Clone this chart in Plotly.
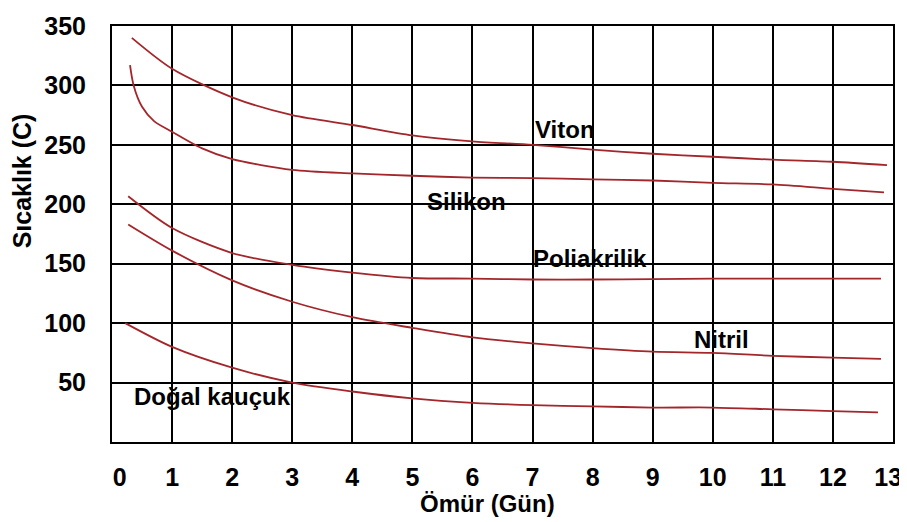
import plotly.graph_objects as go

# Data
viton_x = [0.33, 1, 2, 3, 4, 5, 6, 7, 8, 9, 10, 11, 12, 12.9]
viton_y = [340, 314, 290, 275, 266.7, 258, 253, 250, 246, 242.5, 240, 237.5, 235.8, 233]

silikon_x = [0.3, 0.36, 0.5, 0.7, 1, 1.5, 2, 3, 4, 5, 6, 7, 8, 9, 10, 11, 12, 12.85]
silikon_y = [317, 300, 282, 270, 261, 247, 238, 229, 226, 224, 222.5, 222, 221, 220, 218, 216.7, 213, 210]

poli_x = [0.27, 1, 2, 3, 4, 5, 6, 7, 8, 9, 10, 11, 12, 12.8]
poli_y = [206.7, 180, 159, 149, 142.5, 138, 137.5, 136.7, 136.7, 137, 137.5, 137.5, 137.5, 137.5]

nitril_x = [0.27, 1, 2, 3, 4, 5, 6, 7, 8, 9, 10, 11, 12, 12.8]
nitril_y = [183, 161, 136, 118, 105, 96, 88, 83, 79, 76, 75, 72.5, 71, 70]

dogal_x = [0.22, 1, 2, 3, 4, 5, 6, 7, 8, 9, 10, 11, 12, 12.75]
dogal_y = [100, 80, 62.5, 50, 42.5, 36.7, 33, 31, 30, 29, 29, 27.5, 26, 25]

series_names = ["Viton", "Silikon", "Poliakrilik", "Nitril", "Doğal kauçuk"]
label_x = [7.54, 5.9, 7.96, 10.15, 1.68]
label_y = [263, 202.5, 154, 86, 38]

x_grid = list(range(0, 14))
x_tick_labels = [str(v) for v in range(0, 14)]
x_label_pos = [0.13, 1, 2, 3, 4, 5, 6, 7, 8, 9, 10, 11, 12, 12.92]
y_ticks = [50, 100, 150, 200, 250, 300, 350]

x_title = "Ömür (Gün)"
y_title = "Sıcaklık (C)"

LINE = "#A3262B"
FONT = "Liberation Sans"

fig = go.Figure()
for name, xs, ys in zip(series_names,
                        [viton_x, silikon_x, poli_x, nitril_x, dogal_x],
                        [viton_y, silikon_y, poli_y, nitril_y, dogal_y]):
    fig.add_trace(go.Scatter(x=xs, y=ys, mode="lines", name=name,
                             line=dict(color=LINE, width=1.8, shape="spline", smoothing=0.8),
                             showlegend=False, hoverinfo="skip"))

# invisible trace on the label axis so it is drawn
fig.add_trace(go.Scatter(x=[0, 13], y=[0, 0], xaxis="x2", mode="lines",
                         line=dict(width=0), showlegend=False, hoverinfo="skip"))

for name, lx, ly in zip(series_names, label_x, label_y):
    fig.add_annotation(x=lx, y=ly, text=name, showarrow=False,
                       font=dict(family=FONT, size=24, color="black", weight="bold"))

fig.add_annotation(x=0.481, y=-0.147, xref="paper", yref="paper", text=x_title,
                   showarrow=False, yanchor="middle",
                   font=dict(family=FONT, size=24, color="black", weight="bold"))
fig.add_annotation(x=-0.115, y=0.627, xref="paper", yref="paper", text=y_title,
                   showarrow=False, textangle=-90, xanchor="center", yanchor="middle",
                   font=dict(family=FONT, size=25, color="black", weight="bold"))

tickfont = dict(family=FONT, size=25, color="black", weight="bold")

# the page body has an 8px margin, so the plot area is placed 8px left of the target
fig.update_layout(
    width=907, height=522,
    margin=dict(l=104, r=22, t=18, b=88),
    plot_bgcolor="white", paper_bgcolor="white",
    xaxis=dict(range=[0, 13], tickvals=x_grid, showticklabels=False,
               showgrid=True, gridcolor="black", gridwidth=2,
               showline=True, linecolor="black", linewidth=2, mirror=True,
               zeroline=False, ticks="", automargin=False),
    xaxis2=dict(range=[0, 13], overlaying="x", side="bottom",
                tickvals=x_label_pos, ticktext=x_tick_labels,
                showgrid=False, showline=False, zeroline=False, ticks="",
                ticklabelstandoff=18, tickfont=tickfont, automargin=False),
    yaxis=dict(range=[0, 350], tickvals=y_ticks,
               showgrid=True, gridcolor="black", gridwidth=2,
               showline=True, linecolor="black", linewidth=2, mirror=True,
               zeroline=False, ticks="", ticklabelstandoff=19,
               tickfont=tickfont, automargin=False),
)

fig.write_html("out.html")
